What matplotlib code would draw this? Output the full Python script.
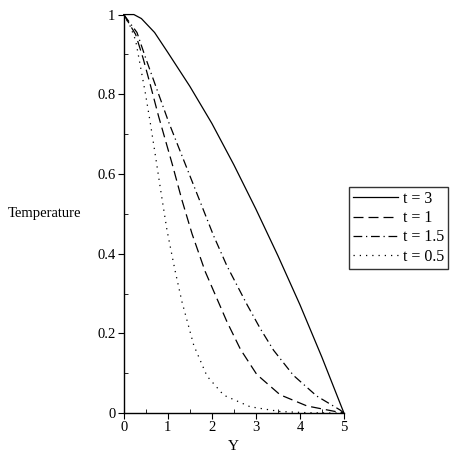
import numpy as np
import matplotlib
matplotlib.use("Agg")
import matplotlib.pyplot as plt
from matplotlib.ticker import MultipleLocator

plt.rcParams['font.family'] = ['Liberation Serif', 'DejaVu Serif']

# curves
y_t3 = [0, 0.23, 0.4, 0.7, 1.0, 1.5, 2.0, 2.5, 3.0, 3.5, 4.0, 4.5, 5.0]
T_t3 = [1, 1.0, 0.99, 0.955, 0.905, 0.82, 0.727, 0.623, 0.512, 0.395, 0.272, 0.14, 0]

y_t1 = [0, 0.27, 0.44, 0.60, 0.79, 1.10, 1.32, 1.55, 1.85, 2.34, 2.65, 3.02, 3.55, 4.16, 4.76, 5.0]
T_t1 = [1, 0.95, 0.89, 0.825, 0.745, 0.625, 0.535, 0.45, 0.355, 0.23, 0.16, 0.097, 0.046, 0.018, 0.005, 0]

y_t15 = [0, 0.3, 0.5, 0.76, 1.02, 1.36, 1.70, 2.04, 2.34, 2.8, 3.1, 3.4, 3.85, 4.38, 4.91, 5.0]
T_t15 = [1, 0.955, 0.89, 0.81, 0.73, 0.635, 0.54, 0.445, 0.37, 0.272, 0.212, 0.158, 0.095, 0.043, 0.008, 0]

y_t05 = [0, 0.15, 0.27, 0.35, 0.49, 0.60, 0.72, 0.83, 0.98, 1.10, 1.17, 1.32, 1.59, 1.89, 2.27, 2.87, 3.55, 4.2, 5.0]
T_t05 = [1, 0.97, 0.935, 0.887, 0.803, 0.73, 0.645, 0.565, 0.46, 0.393, 0.355, 0.28, 0.17, 0.093, 0.045, 0.016, 0.004, 0.001, 0]

fig = plt.figure(figsize=(4.55, 4.55), dpi=100)
ax = fig.add_axes([0.272, 0.092, 0.484, 0.876])

ax.plot(y_t3, T_t3, color='black', lw=0.9, linestyle='-', label='t = 3', clip_on=False)
ax.plot(y_t1, T_t1, color='black', lw=0.9, linestyle=(0, (8, 4)), label='t = 1', clip_on=False)
ax.plot(y_t15, T_t15, color='black', lw=0.9, linestyle=(0, (7, 3, 1, 3)), label='t = 1.5', clip_on=False)
ax.plot(y_t05, T_t05, color='black', lw=0.9, linestyle=(0, (1, 4)), label='t = 0.5', clip_on=False)

ax.set_xlim(0, 5)
ax.set_ylim(0, 1)
ax.spines['top'].set_visible(False)
ax.spines['right'].set_visible(False)
ax.spines['left'].set_linewidth(1.0)
ax.spines['bottom'].set_linewidth(1.0)

ax.xaxis.set_major_locator(MultipleLocator(1))
ax.xaxis.set_minor_locator(MultipleLocator(0.5))
ax.yaxis.set_minor_locator(MultipleLocator(0.1))
ax.set_yticks([0, 0.2, 0.4, 0.6, 0.8, 1])
ax.set_yticklabels(['0', '0.2', '0.4', '0.6', '0.8', '1'])
ax.tick_params(which='major', direction='out', length=4, labelsize=10.5, pad=2)
ax.tick_params(which='minor', direction='in', length=3)

ax.set_xlabel('Y', fontsize=11, labelpad=4)
ax.set_ylabel('Temperature', fontsize=10.5, rotation=0, va='center', ha='center')
ax.yaxis.set_label_coords(-0.36, 0.50)

ax.legend(loc='center left', bbox_to_anchor=(1.024, 0.465), frameon=True, fancybox=False,
          edgecolor='black', fontsize=11.5, handlelength=2.8, handletextpad=0.3,
          borderpad=0.25, labelspacing=0.2, borderaxespad=0)

fig.savefig('out.png', dpi=100)
